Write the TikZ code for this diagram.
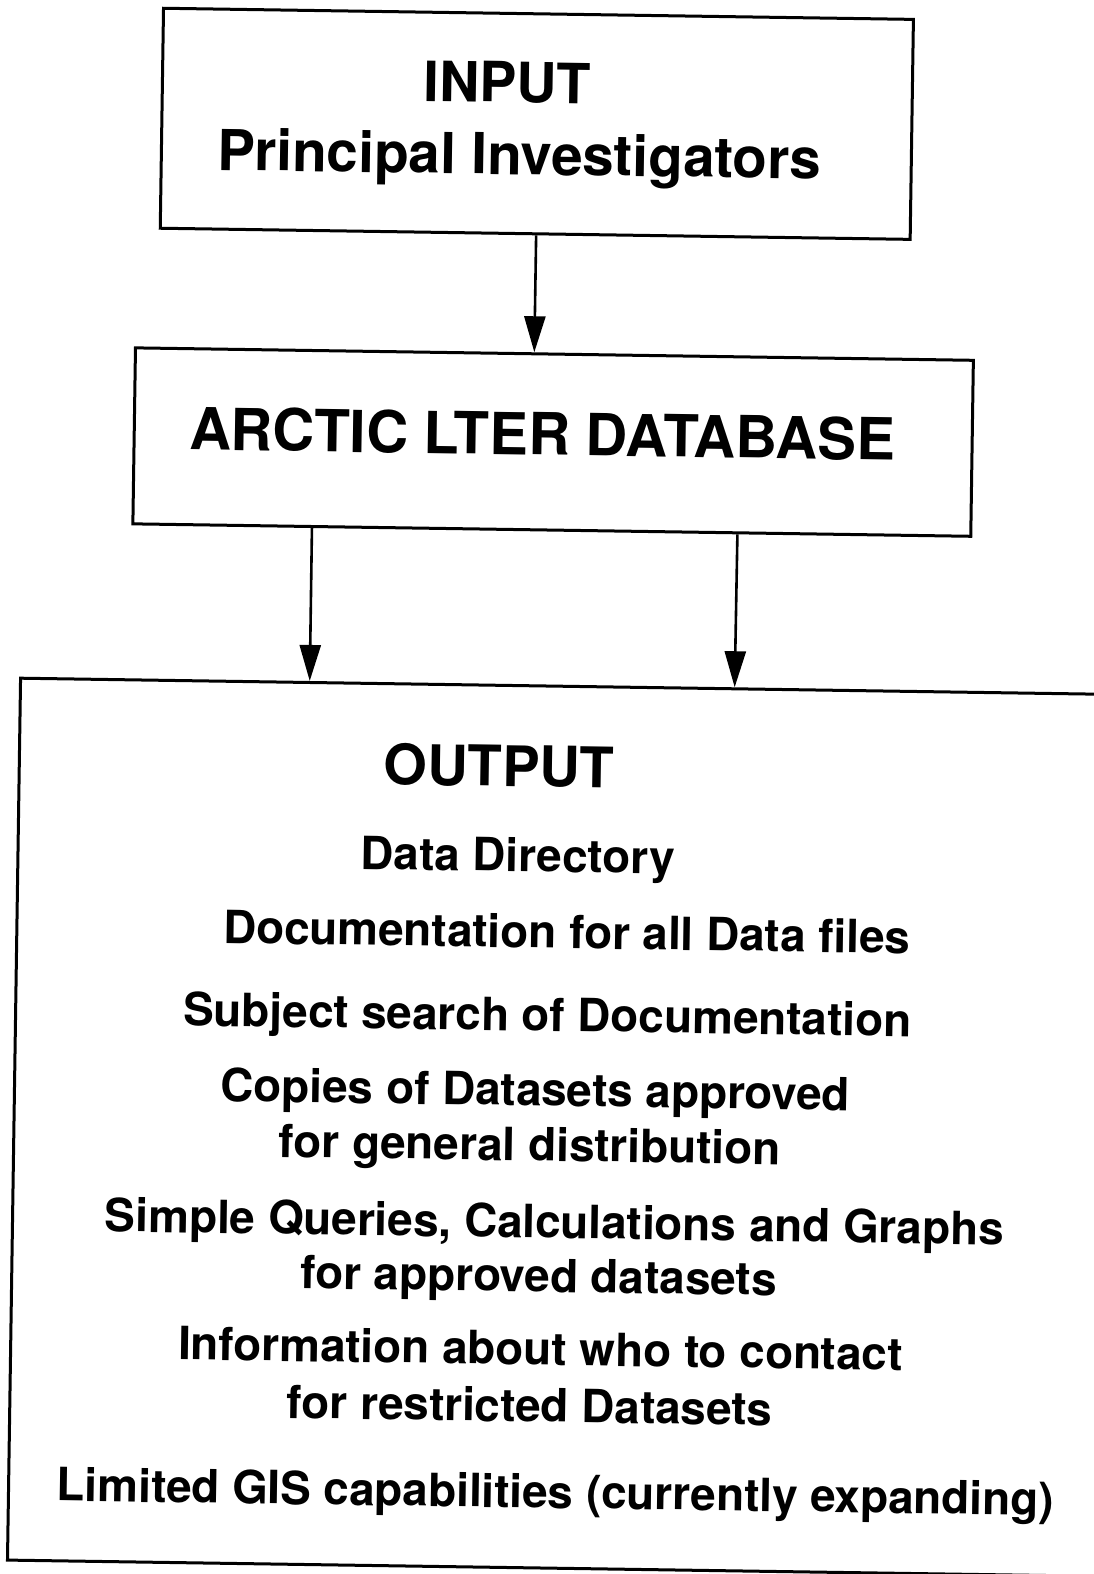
\documentclass[tikz,border=0pt]{standalone}
\usepackage{fontspec}
\setmainfont{TeX Gyre Heros}
\usetikzlibrary{arrows.meta,calc}
\begin{document}
\begin{tikzpicture}[x=1pt,y=-1pt,
  box/.style={draw, line width=3pt, inner sep=0pt},
  arr/.style={line width=2.6pt, -{Triangle[length=36pt,width=21pt]}},
  big/.style={font=\fontsize{55.5}{60}\selectfont\bfseries, anchor=base, inner sep=0pt},
  item/.style={font=\fontsize{45.8}{50}\selectfont\bfseries, anchor=base, inner sep=0pt}]
\useasboundingbox (0,0) rectangle (1093,1574);
\begin{scope}[rotate around={-0.85:(546,787)}, transform shape]
  % boxes
  \node[box, minimum width=750pt, minimum height=220pt] (input) at (527,124) {};
  \node[box, minimum width=838pt, minimum height=176pt] (db) at (548,442) {};
  \node[box, minimum width=1281pt, minimum height=882pt] (output) at (659.5,1127) {};
  % texts
  \node[big] (t1) at (497,103) {INPUT};
  \node[big, font=\fontsize{56.5}{60}\selectfont\bfseries] (t2) at (510,175) {Principal Investigators};
  \node[big, font=\fontsize{58}{62}\selectfont\bfseries] (t3) at (537,455) {ARCTIC LTER DATABASE};
  \node[big, font=\fontsize{56}{60}\selectfont\bfseries] (t4) at (499,787) {OUTPUT};
  \node[item] (o1) at (519,872) {Data Directory};
  \node[item] (o2) at (569,948) {Documentation for all Data files};
  \node[item] (o3) at (551,1031) {Subject search of Documentation};
  \node[item] (o4) at (540,1106) {Copies of Datasets approved};
  \node[item] (o5) at (535,1161) {for general distribution};
  \node[item] (o6) at (561,1238) {Simple Queries, Calculations and Graphs};
  \node[item] (o7) at (546,1292) {for approved datasets};
  \node[item] (o8) at (549,1365) {Information about who to contact};
  \node[item] (o9) at (539,1422) {for restricted Datasets};
  \node[item] (o10) at (566,1508) {Limited GIS capabilities (currently expanding)};
  % connectors
  \draw[arr] ($(input.south west)!0.5013!(input.south east)$) -- ($(db.north west)!0.4761!(db.north east)$);
  \draw[arr] ($(db.south west)!0.2148!(db.south east)$) -- ($(output.north west)!0.2264!(output.north east)$);
  \draw[arr] ($(db.south west)!0.7208!(db.south east)$) -- ($(output.north west)!0.5574!(output.north east)$);
\end{scope}
\end{tikzpicture}
\end{document}
